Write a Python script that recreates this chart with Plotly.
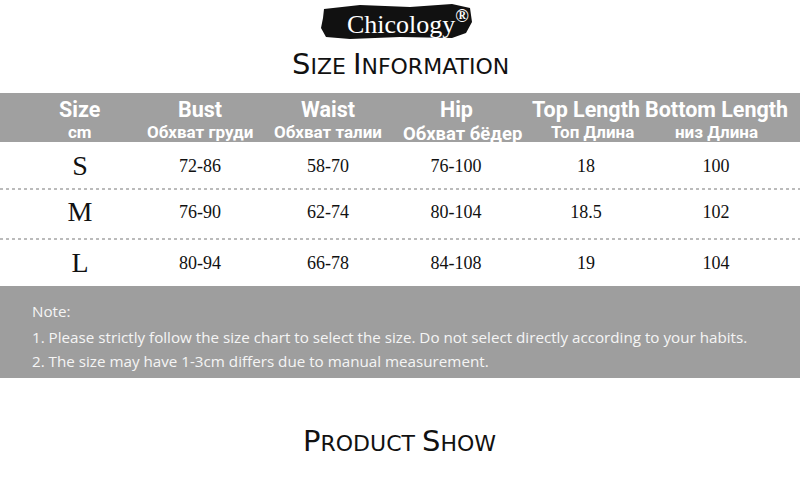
import plotly.graph_objects as go

# données du tableau des tailles
sizes = ["S", "M", "L"]
bust = ["72-86", "76-90", "80-94"]
waist = ["58-70", "62-74", "66-78"]
hip = ["76-100", "80-104", "84-108"]
top_length = ["18", "18.5", "19"]
bottom_length = ["100", "102", "104"]

headers = ["Size", "Bust", "Waist", "Hip", "Top Length", "Bottom Length"]
sub_headers = ["cm", "Обхват груди", "Обхват талии", "Обхват бёдер", "Топ Длина", "низ Длина"]

notes = [
    "Note:",
    "1. Please strictly follow the size chart to select the size. Do not select directly according to your habits.",
    "2. The size may have 1-3cm differs due to manual measurement.",
]

# mise en page (pixels)
col_x = [80, 200, 328, 456, 586, 716]
row_y = [168, 214, 265]
GREY = "#a0a0a0"

fig = go.Figure()

# bandeaux gris
fig.add_shape(type="rect", x0=0, x1=800, y0=93, y1=142, fillcolor=GREY, line_width=0, layer="below")
fig.add_shape(type="rect", x0=0, x1=800, y0=286, y1=378, fillcolor="#9e9e9e", line_width=0, layer="below")
for y in [189, 239]:
    fig.add_shape(type="line", x0=0, x1=800, y0=y, y1=y, line=dict(color="#a5a5a5", width=1.3, dash="dot"))

# logo façon coup de pinceau
fig.add_shape(type="path",
              path="M 324 9 L 360 5 L 410 7 L 452 4 L 470 8 L 472 22 L 466 33 L 452 38 L 400 37 L 350 39 L 326 37 L 321 28 L 323 18 Z",
              fillcolor="#111111", line_width=0, layer="below")
fig.add_annotation(x=345, y=22, xanchor="left", text="Chicology<sup><b>®</b></sup>", showarrow=False,
                   font=dict(family="Liberation Serif", size=26, color="white"))

# titres en petites capitales
def small_caps(words, big, small):
    parts = []
    for w in words:
        parts.append(f"<span style='font-size:{big}px'>{w[0]}</span>{w[1:].upper()}")
    return " ".join(parts)

fig.add_annotation(x=400, y=64, text=small_caps(["Size", "Information"], 29, 22), showarrow=False,
                   font=dict(family="DejaVu Sans", size=22, color="#111111"))
fig.add_annotation(x=399, y=441, text=small_caps(["Product", "Show"], 29, 22), showarrow=False,
                   font=dict(family="DejaVu Sans", size=22, color="#111111"))

# en-têtes
sub_dx = [0, 0, 0, 6, 6, 0]
sub_y = [132, 132, 132, 134, 132, 132]
sub_size = [17, 17, 17, 18.5, 17, 17]
for i, h in enumerate(headers):
    fig.add_annotation(x=col_x[i], y=109, text=f"<b>{h}</b>", showarrow=False,
                       font=dict(family="Roboto", size=21.5, color="white"))
    fig.add_annotation(x=col_x[i] + sub_dx[i], y=sub_y[i], text=f"<b>{sub_headers[i]}</b>",
                       showarrow=False, font=dict(family="Roboto", size=sub_size[i], color="white"))

# valeurs du tableau
fig.add_trace(go.Scatter(x=[col_x[0]] * 3, y=row_y, mode="text", text=sizes,
                         textfont=dict(family="Liberation Serif", size=28, color="#111111"), hoverinfo="skip"))
for i, col in enumerate([bust, waist, hip, top_length, bottom_length]):
    fig.add_trace(go.Scatter(x=[col_x[i + 1]] * 3, y=[y - 1 for y in row_y], mode="text", text=col,
                             textfont=dict(family="Liberation Serif", size=18, color="#111111"),
                             hoverinfo="skip"))

# notes
for t, y in zip(notes, [311, 337, 361]):
    fig.add_annotation(x=30, y=y, text=t, showarrow=False, xanchor="left",
                       font=dict(family="Open Sans", size=15.2, color="#f5f5f5"))

fig.update_layout(
    width=800, height=480,
    margin=dict(l=0, r=0, t=0, b=0),
    paper_bgcolor="white", plot_bgcolor="white",
    showlegend=False,
    xaxis=dict(range=[0, 800], visible=False, fixedrange=True),
    yaxis=dict(range=[480, 0], visible=False, fixedrange=True),
)

fig.write_html("out.html", config={"displayModeBar": False},
               post_script="document.body.style.margin='0';")
